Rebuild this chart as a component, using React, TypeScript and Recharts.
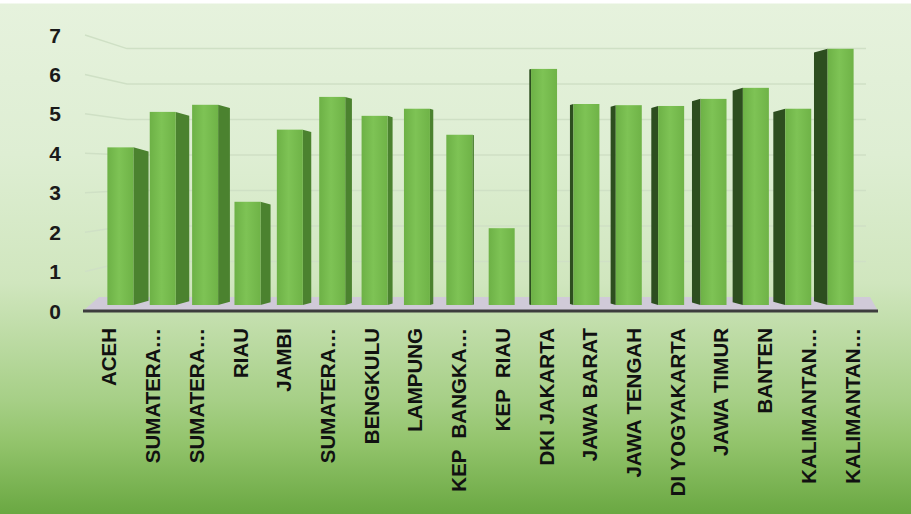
import React from 'react';
import { BarChart, Bar, XAxis, YAxis, CartesianGrid } from 'recharts';

const categories = [
  'ACEH', 'SUMATERA…', 'SUMATERA…', 'RIAU', 'JAMBI', 'SUMATERA…', 'BENGKULU', 'LAMPUNG',
  'KEP  BANGKA…', 'KEP  RIAU', 'DKI JAKARTA', 'JAWA BARAT', 'JAWA TENGAH', 'DI YOGYAKARTA',
  'JAWA TIMUR', 'BANTEN', 'KALIMANTAN…', 'KALIMANTAN…',
];
const values = [4.15, 5.05, 5.23, 2.77, 4.6, 5.43, 4.95, 5.13, 4.47, 2.1, 6.14, 5.25, 5.22, 5.2, 5.38, 5.66, 5.13, 6.65];
const yTicks = [0, 1, 2, 3, 4, 5, 6, 7];

const data = categories.map((name, i) => ({ id: `c${i}`, name, value: values[i] }));

const W = 911;
const H = 514;
const MARGIN = { top: 35, right: 33, bottom: 0, left: 0 };
const Y_W = 83;
const X_H = 203;
const PLOT_BOTTOM = H - MARGIN.bottom - X_H;
const FLOOR_Y = PLOT_BOTTOM - 14;
const VANISH = 480;
const FONT = '"Liberation Sans", Arial, sans-serif';

// front face + perspective side face
function Bar3D(props: any) {
  const { x, y, width, height, index } = props;
  if (!height || height <= 0) return null;
  const cx = x + width / 2;
  const fc = VANISH + (cx - VANISH) * 0.969;
  const fw = 26;
  const left = fc - fw / 2;
  const right = left + fw;
  const top = y;
  const bottom = y + height - 6;
  const s = Math.abs(fc - 500) * 0.04;
  const dy = s * 0.28;
  const onRight = fc < 500;
  const side = onRight
    ? `${right},${top} ${right + s},${top + dy} ${right + s},${bottom - dy} ${right},${bottom}`
    : `${left},${top} ${left - s},${top + dy} ${left - s},${bottom - dy} ${left},${bottom}`;
  const gid = `front${index}`;
  return (
    <g>
      <defs>
        <linearGradient id={gid} x1="0" y1="0" x2="1" y2="0">
          <stop offset="0%" stopColor="#6db146" />
          <stop offset="45%" stopColor="#7ec355" />
          <stop offset="100%" stopColor="#6fb347" />
        </linearGradient>
      </defs>
      {s > 0.5 && <polygon points={side} fill={onRight ? '#4b822f' : '#2d4e1f'} />}
      <rect x={left} y={top} width={fw} height={bottom - top} fill={`url(#${gid})`} />
    </g>
  );
}

// back-wall grid lines and the floor
function GridLine(p: any) {
  const { x1, y1, x2 } = p;
  if (Math.abs(y1 - PLOT_BOTTOM) < 1) {
    return (
      <polygon
        key={p.key}
        points={`${x1 + 16},${FLOOR_Y} ${x2 - 8},${FLOOR_Y} ${x2},${PLOT_BOTTOM} ${x1},${PLOT_BOTTOM}`}
        fill="#d0cad8"
      />
    );
  }
  const yb = FLOOR_Y - (PLOT_BOTTOM - y1) * 0.9;
  return (
    <polyline
      key={p.key}
      points={`${x1 + 2},${y1} ${x1 + 44},${yb} ${x2 - 12},${yb}`}
      fill="none"
      stroke="#cfe0c5"
      strokeWidth={1.5}
    />
  );
}

function YTick(props: any) {
  const { y, payload } = props;
  return (
    <text x={Y_W - 22} y={y} textAnchor="end" dominantBaseline="central"
      fontFamily={FONT} fontWeight="bold" fontSize={21} fill="#1a1a1a">
      {payload.value}
    </text>
  );
}

function XTick(props: any) {
  const { x, payload } = props;
  const ty = PLOT_BOTTOM + 17;
  return (
    <text x={x} y={ty} transform={`rotate(-90, ${x}, ${ty})`} textAnchor="end"
      dominantBaseline="central" fontFamily={FONT} fontWeight="bold" fontSize={20.5}
      fill="#111" style={{ whiteSpace: 'pre' }}>
      {categories[payload.index] ?? payload.value}
    </text>
  );
}

export default function App() {
  return (
    <div
      style={{
        position: 'absolute', left: 0, top: 0, width: W, height: H,
        background:
          'linear-gradient(to bottom, #ffffff 0px, #ffffff 3px, #e6f2dd 4px, #deeed3 30%, #d0e6be 55%, #bedca6 65%, #a6cf86 78%, #93c46c 86%, #6aa842 100%)',
      }}
    >
      <BarChart width={W} height={H} data={data} margin={MARGIN}>
        <CartesianGrid vertical={false} horizontal={GridLine as any} />
        <XAxis dataKey="id" interval={0} height={X_H} tickLine={false}
          axisLine={{ stroke: '#3d3d3d', strokeWidth: 3 }}
          padding={{ left: 4, right: 4 }} tick={<XTick />} />
        <YAxis width={Y_W} domain={[0, 7]} ticks={yTicks} axisLine={false}
          tickLine={false} tick={<YTick />} />
        <Bar dataKey="value" shape={Bar3D} isAnimationActive={false} />
      </BarChart>
    </div>
  );
}
